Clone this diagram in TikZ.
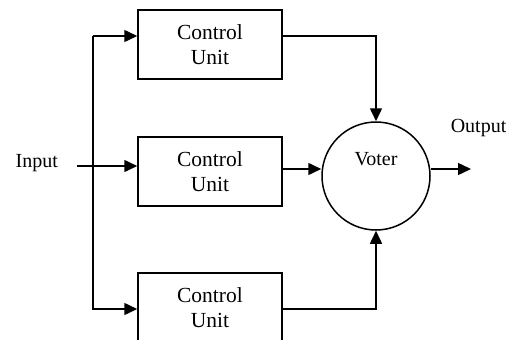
\documentclass[tikz,border=0pt]{standalone}
\usepackage{fontspec}
\setmainfont{Liberation Serif}
\usetikzlibrary{arrows.meta}
\begin{document}
\begin{tikzpicture}[x=1pt,y=-1pt,
  line width=1.5pt,
  cu/.style={draw, rectangle, minimum width=144pt, minimum height=69pt, inner sep=0pt,
    align=center, font=\fontsize{21.5}{25}\selectfont},
  lbl/.style={inner sep=0pt, font=\fontsize{20}{24}\selectfont},
  arr/.style={-{Triangle[length=13pt,width=12pt]}}]
\clip (0,0) rectangle (506,340);
\useasboundingbox (0,0) rectangle (506,340);
\node[cu] (b1) at (210,44.5) {Control\\Unit};
\node[cu] (b2) at (210,171.5) {Control\\Unit};
\node[cu] (b3) at (210,307.5) {Control\\Unit};
\node[draw, circle, minimum size=108pt, inner sep=0pt] (v) at (376,176) {};
\node[lbl, anchor=base] (vt) at (376,165) {Voter};
\node[lbl, anchor=base west] (inl) at (15,167) {Input};
\node[lbl, anchor=base west] (outl) at (450,132) {Output};
\coordinate (in) at (77,166);
\coordinate (top) at (93,36);
\coordinate (bot) at (93,309);
\coordinate (mid) at (430,169);
\coordinate (out) at (471,169);
\draw[arr] (in) -- (b2.west |- in);
\draw[arr] (top) -- (b1.west |- top);
\draw[arr] (top) -- (bot) -- (b3.west |- bot);
\draw[arr] (b1.east |- top) -| (v.north);
\draw[arr] (b3.east |- bot) -| (v.south);
\draw[arr] (b2.east |- mid) -- (v.west |- mid);
\draw[arr] (v.east |- mid) -- (out);
\end{tikzpicture}
\end{document}
